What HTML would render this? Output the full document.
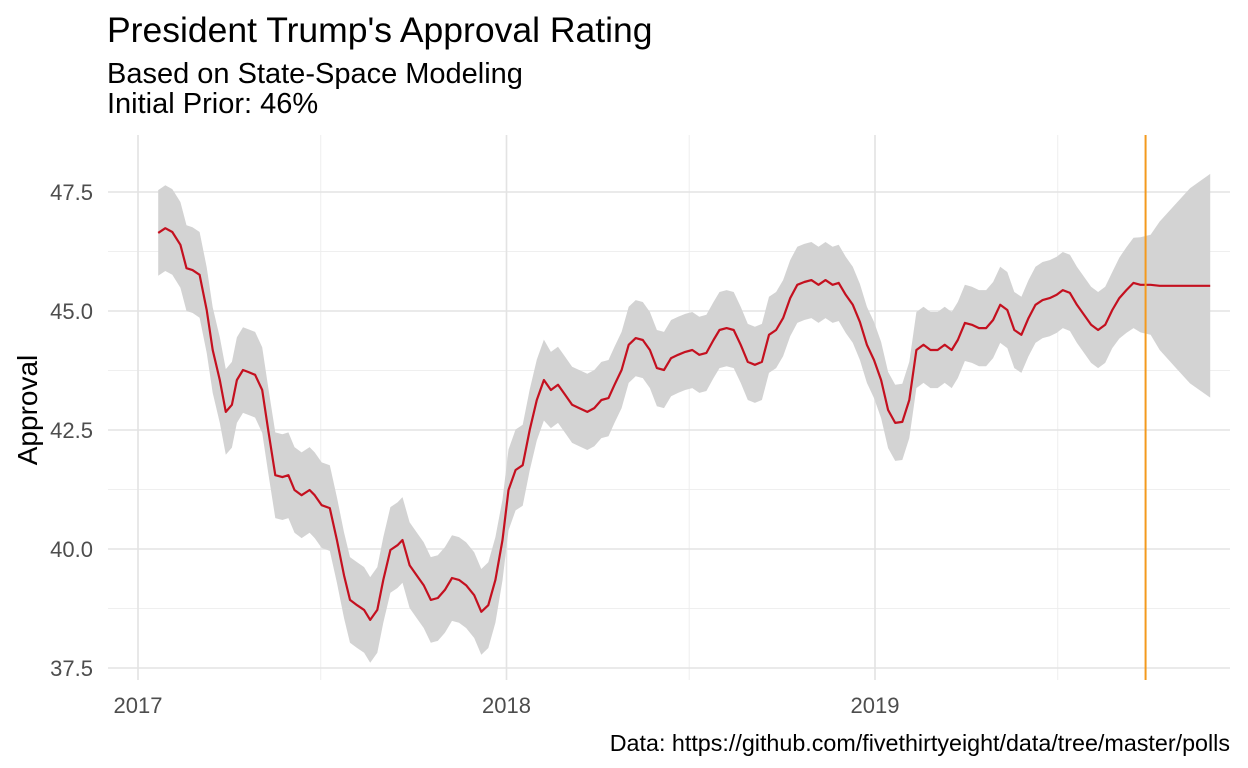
<!DOCTYPE html>
<html><head><meta charset="utf-8">
<style>
body{margin:0;background:#fff;}
svg{display:block;font-family:"Liberation Sans",Arial,sans-serif;}
</style></head>
<body>
<svg id="chart" width="1248" height="768">
<text x="107" y="42" font-size="35.5" fill="#000">President Trump's Approval Rating</text>
<text x="107" y="83" font-size="29" fill="#000">Based on State-Space Modeling</text>
<text x="107" y="113" font-size="29" fill="#000">Initial Prior: 46%</text>
<text transform="translate(37,410) rotate(-90)" text-anchor="middle" font-size="28" fill="#000">Approval</text>
<text x="1230" y="751" text-anchor="end" font-size="23.3" fill="#000">Data: https://github.com/fivethirtyeight/data/tree/master/polls</text>
<g id="grid"></g>
<g id="marks"></g>
<g id="axes"></g>
</svg>
<script>
// days since 2017-01-01
const days=[20,27,34,42,48,54,61,68,74,81,87,93,98,104,109,116,123,129,136,143,149,155,162,170,175,182,190,197,204,210,217,224,230,237,243,250,257,262,269,276,283,290,297,304,311,318,325,333,340,347,354,361,367,374,381,388,395,402,409,416,423,430,437,445,452,459,466,472,479,486,493,500,507,514,521,528,535,542,549,556,563,570,576,583,590,597,604,611,618,625,632,639,646,653,660,667,674,681,688,694,701,708,715,722,729,736,743,750,757,764,771,778,785,792,799,806,812,819,826,833,840,847,854,861,868,875,882,889,896,903,910,916,923,930,937,944,951,958,965,972,979,986,993,1003,1012,1027,1042,1062];
const approval=[46.64,46.74,46.66,46.39,45.90,45.86,45.76,45.02,44.18,43.55,42.88,43.03,43.55,43.76,43.72,43.66,43.34,42.5,41.55,41.51,41.55,41.24,41.13,41.24,41.13,40.92,40.86,40.19,39.45,38.93,38.82,38.72,38.51,38.72,39.35,39.98,40.08,40.19,39.66,39.45,39.24,38.93,38.97,39.14,39.39,39.35,39.24,39.03,38.68,38.82,39.35,40.19,41.24,41.66,41.76,42.5,43.13,43.55,43.34,43.45,43.24,43.03,42.96,42.88,42.96,43.13,43.17,43.45,43.76,44.29,44.43,44.39,44.18,43.8,43.76,44.01,44.08,44.14,44.18,44.08,44.12,44.39,44.6,44.64,44.6,44.29,43.93,43.87,43.93,44.5,44.6,44.85,45.27,45.55,45.61,45.65,45.55,45.65,45.55,45.59,45.34,45.13,44.77,44.29,43.97,43.55,42.92,42.65,42.67,43.13,44.18,44.29,44.18,44.18,44.29,44.18,44.39,44.75,44.71,44.64,44.64,44.81,45.13,45.02,44.6,44.5,44.85,45.13,45.23,45.27,45.34,45.44,45.38,45.13,44.92,44.71,44.6,44.71,45.02,45.27,45.44,45.59,45.55,45.55,45.53,45.53,45.53,45.53];
const halfWidth=[0.9,0.9,0.9,0.9,0.9,0.9,0.9,0.9,0.9,0.9,0.9,0.9,0.9,0.9,0.9,0.9,0.9,0.9,0.9,0.9,0.9,0.9,0.9,0.9,0.9,0.9,0.9,0.9,0.9,0.9,0.9,0.9,0.9,0.9,0.9,0.9,0.9,0.9,0.9,0.9,0.9,0.9,0.9,0.9,0.9,0.9,0.9,0.9,0.9,0.9,0.9,0.85,0.85,0.85,0.85,0.85,0.85,0.85,0.8,0.8,0.8,0.8,0.8,0.8,0.8,0.8,0.8,0.8,0.8,0.8,0.8,0.8,0.8,0.8,0.8,0.8,0.8,0.8,0.8,0.8,0.8,0.8,0.8,0.8,0.8,0.8,0.8,0.8,0.8,0.8,0.8,0.8,0.8,0.8,0.8,0.8,0.8,0.8,0.8,0.8,0.8,0.8,0.8,0.8,0.8,0.8,0.8,0.8,0.8,0.8,0.8,0.8,0.8,0.8,0.8,0.8,0.8,0.8,0.8,0.8,0.8,0.8,0.8,0.8,0.8,0.8,0.8,0.8,0.8,0.8,0.8,0.8,0.8,0.8,0.8,0.8,0.8,0.8,0.8,0.85,0.9,0.95,1.0,1.05,1.35,1.7,2.05,2.35,2.6];
const yTicks=[37.5,40.0,42.5,45.0,47.5];
const yMinor=[38.75,41.25,43.75,46.25];
const xTickDays=[0,365,730];
const xTickLabels=["2017","2018","2019"];
const xMinorDays=[181,546,911];
const currentDay=998;

const NS="http://www.w3.org/2000/svg";
const PL=108,PR=1230,PT=135,PB=680;
function xs(d){return 138+d*368.5/365;}
function ys(v){return 311-(v-45)*47.6;}
function mk(tag,attrs,parent){const e=document.createElementNS(NS,tag);for(const k in attrs)e.setAttribute(k,attrs[k]);parent.appendChild(e);return e;}
const grid=document.getElementById('grid'),marks=document.getElementById('marks'),axes=document.getElementById('axes');
yMinor.forEach(v=>{const l=mk('line',{x1:PL,x2:PR,y1:ys(v),y2:ys(v),stroke:'#efefef','stroke-width':1},grid);

});
xMinorDays.forEach(d=>{const l=mk('line',{x1:xs(d),x2:xs(d),y1:PT,y2:PB,stroke:'#efefef','stroke-width':1},grid);

});
yTicks.forEach(v=>{const l=mk('line',{x1:PL,x2:PR,y1:ys(v),y2:ys(v),stroke:'#e3e3e3','stroke-width':1.6},grid);


const t=mk('text',{x:93,y:ys(v)+8,'text-anchor':'end','font-size':22,fill:'#4d4d4d'},axes);t.textContent=v.toFixed(1);

});
xTickDays.forEach((d,i)=>{const l=mk('line',{x1:xs(d),x2:xs(d),y1:PT,y2:PB,stroke:'#e3e3e3','stroke-width':1.6},grid);


const t=mk('text',{x:xs(d),y:713,'text-anchor':'middle','font-size':22,fill:'#4d4d4d'},axes);t.textContent=xTickLabels[i];

});
let up=[],lo=[];
days.forEach((d,i)=>{up.push(xs(d).toFixed(1)+','+ys(approval[i]+halfWidth[i]).toFixed(1));lo.unshift(xs(d).toFixed(1)+','+ys(approval[i]-halfWidth[i]).toFixed(1));});
const rib=mk('polygon',{points:up.concat(lo).join(' '),fill:'#d3d3d3'},marks);


const line=mk('polyline',{points:days.map((d,i)=>xs(d).toFixed(1)+','+ys(approval[i]).toFixed(1)).join(' '),fill:'none',stroke:'#c4101f','stroke-width':2.2,'stroke-linejoin':'round'},marks);


const v=mk('line',{x1:xs(currentDay),x2:xs(currentDay),y1:PT,y2:PB,stroke:'#f39a1e','stroke-width':2},marks);


</script>
</body></html>
